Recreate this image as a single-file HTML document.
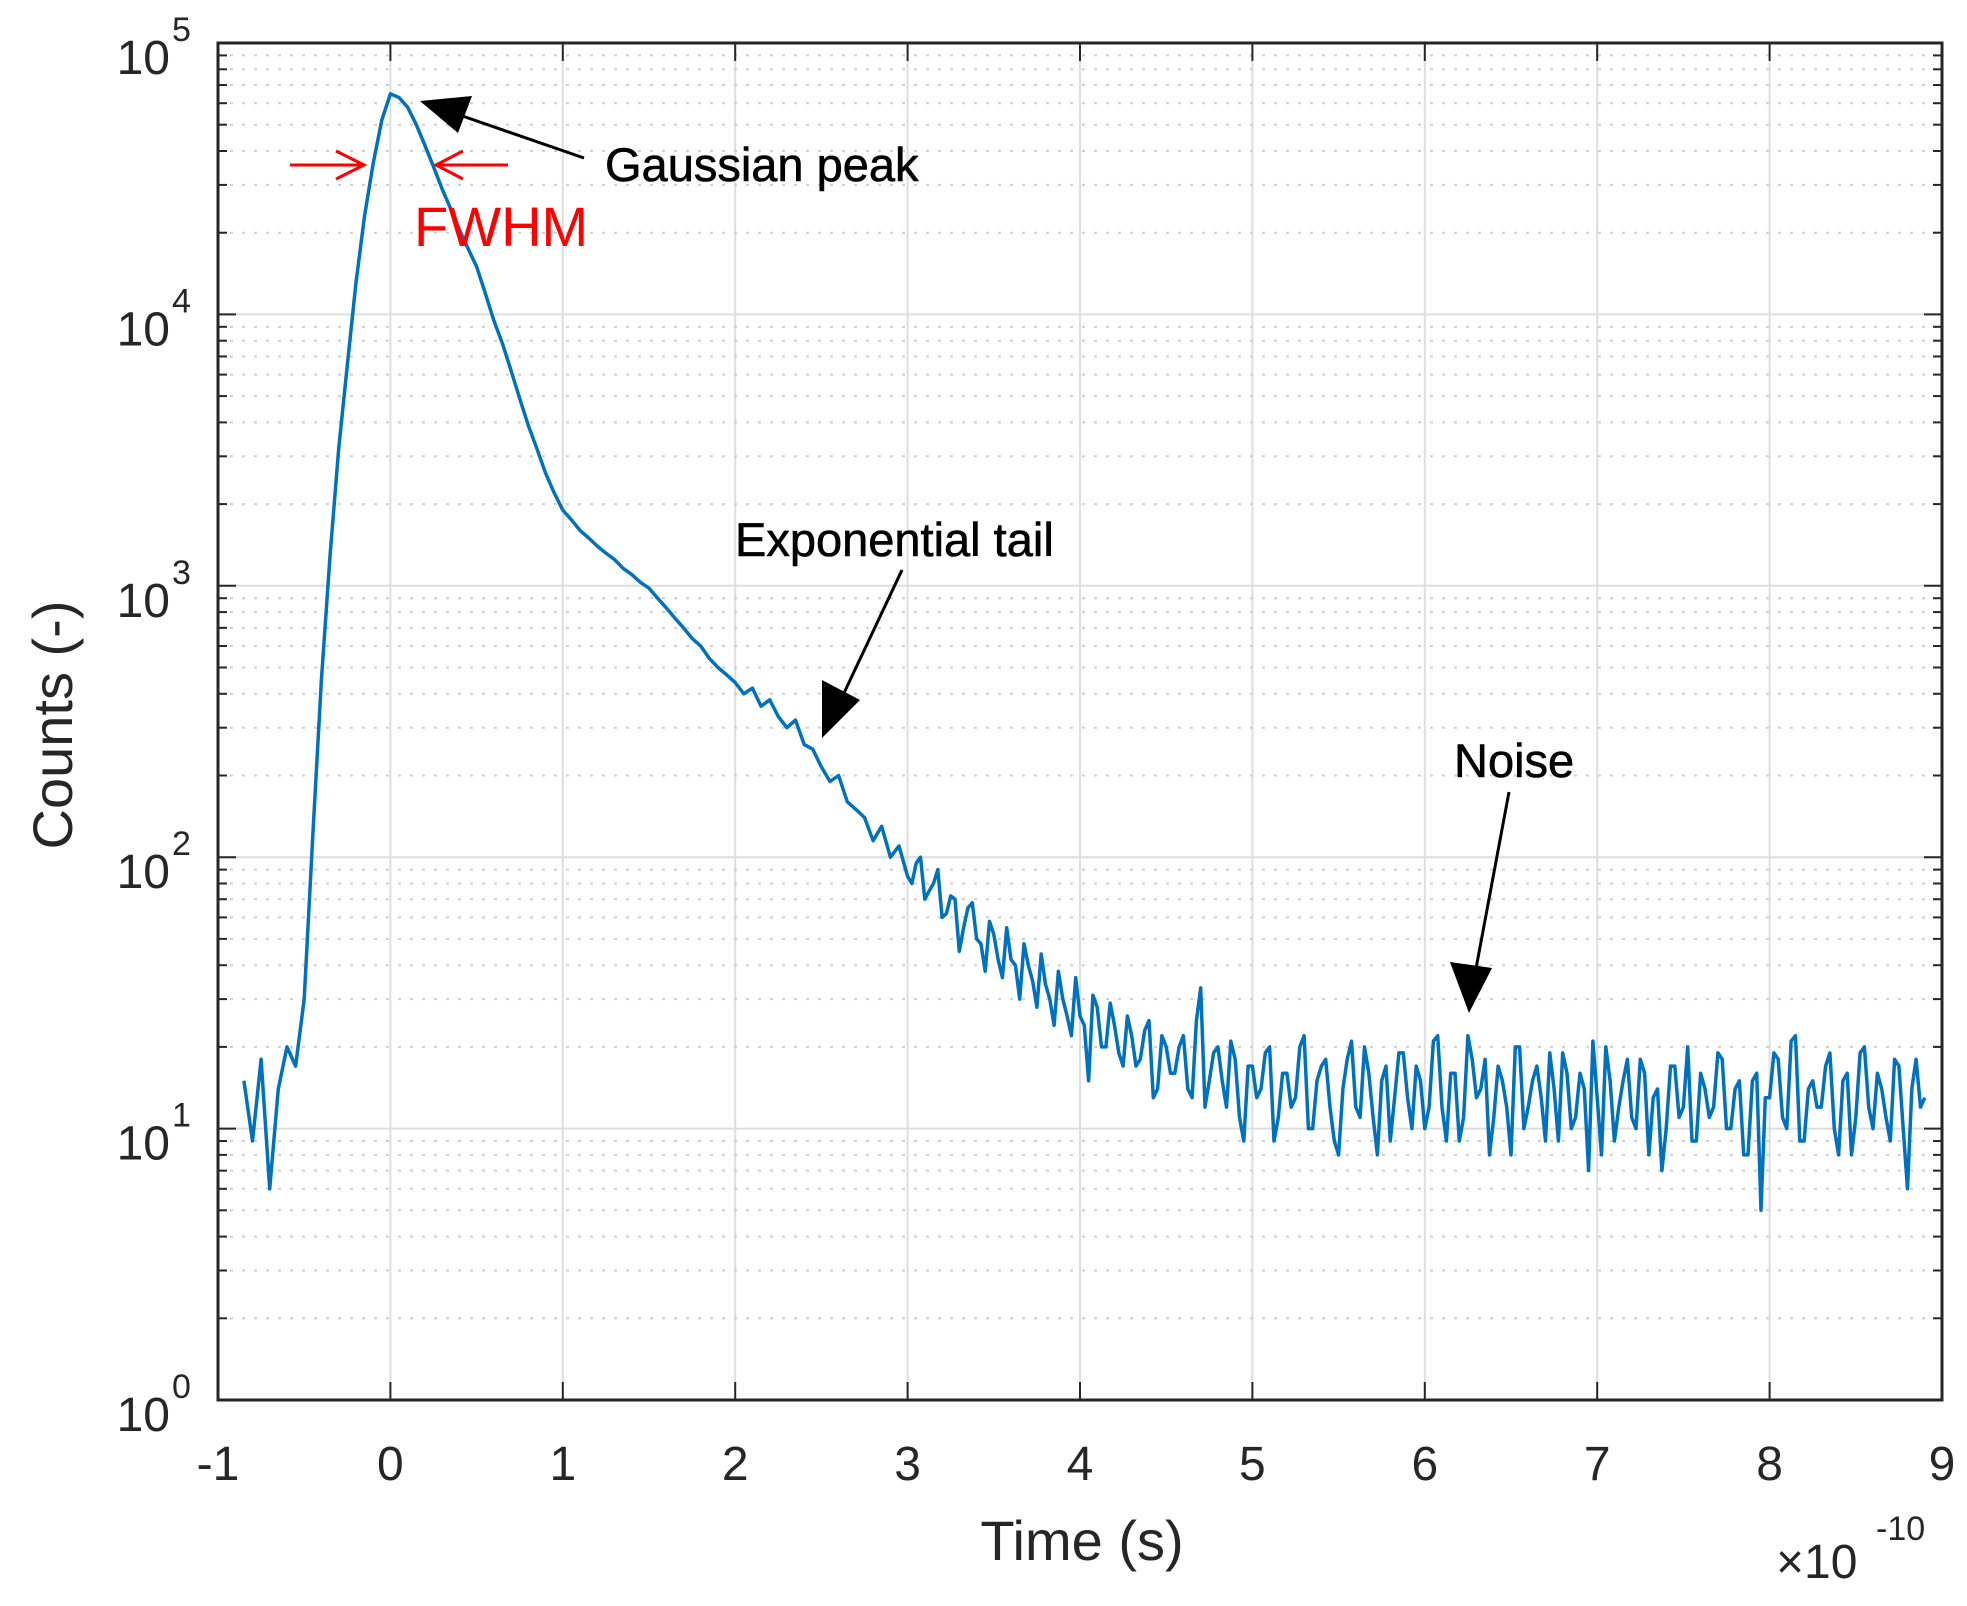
<!DOCTYPE html>
<html><head><meta charset="utf-8"><style>
html,body{margin:0;padding:0;background:#fff;}
svg{display:block;font-family:"Liberation Sans",sans-serif;}
</style></head><body>
<svg id="chart" width="1967" height="1606" viewBox="0 0 1967 1606">
<g id="grid"></g>
<g id="series"></g>
<g id="axes"></g>
<g id="labels"></g>
<text x="1082" y="1560" font-size="56" fill="#262626" text-anchor="middle">Time (s)</text>
<text transform="translate(72,725) rotate(-90)" font-size="56" fill="#262626" text-anchor="middle">Counts (-)</text>
<g>
<text x="1776" y="1578" font-size="48" fill="#262626">×10</text>
<text x="1876" y="1540" font-size="34" fill="#262626">-10</text>
</g>
<g>
<line x1="584" y1="158" x2="445" y2="110" stroke="#000" stroke-width="3"/>
<polygon points="420,101 472,96 458,133" fill="#000"/>
<text x="605" y="181" font-size="47" fill="#000" stroke="#000" stroke-width="0.6">Gaussian peak</text>
<line x1="290" y1="165" x2="364" y2="165" stroke="#f00" stroke-width="3"/>
<polyline points="336,151 364,165 336,179" fill="none" stroke="#f00" stroke-width="3"/>
<line x1="508" y1="165" x2="436" y2="165" stroke="#f00" stroke-width="3"/>
<polyline points="463,151 436,165 463,179" fill="none" stroke="#f00" stroke-width="3"/>
<text x="414" y="246" font-size="56" fill="#f00">FWHM</text>
<text x="735" y="556" font-size="47" fill="#000" stroke="#000" stroke-width="0.6">Exponential tail</text>
<line x1="902" y1="570" x2="836" y2="710" stroke="#000" stroke-width="3"/>
<polygon points="822,738 822,680 860,700" fill="#000"/>
<text x="1454" y="777" font-size="47" fill="#000" stroke="#000" stroke-width="0.6">Noise</text>
<line x1="1509" y1="792" x2="1472" y2="990" stroke="#000" stroke-width="3"/>
<polygon points="1469,1013 1450,962 1492,968" fill="#000"/>
</g>
</svg>
<script>
const tStart = -0.85;
const tStep = 0.05;
const counts = [15,9,18,6,14,20,17,30,120,450,1300,3200,6500,13000,23000,36000,52000,65000,
63000,58000,50000,42000,35000,29000,24500,20500,17500,15000,12000,9500,7800,6200,4900,3900,3200,2600,2200,1900,
1750,1600,1500,1400,1320,1250,1160,1100,1030,980,900,830,760,700,640,600,540,500,470,
440,400,420,360,380,330,300,320,260,250,215,190,200,160,150,140,115,130,100,110,85,95,70,80,60,72,45,65,50,38,52,36,42,30,40,28,34,24,30,22,26,15,28,20,24,17,22,18,25,14,20,16,22,13,33,15,20,12,18,9,17,14,20,11,16,13,22,10,17,12,8,18,12,20,11,15,9,19,13,17,10,21,12,16,9,22,13,18,11,15,8,20,12,17,9,14,19,10,16,7,13,20,9,15,11,18,8,14,10,17,12,9,16,11,19,10,14,8,15,5,13,18,10,22,9,15,12,19,8,16,11,20,10,14,9,17,6,18,13];
const midStart = 3.025;
const midCounts = [80,100,75,90,62,70,55,68,48,58,42,55,40,48,35,44,30,38,26,36,24,31,20,29,19,26,17,23,13,22,16,20,14,25,12,19,15,21,11,17,
13,19,9,16,12,20,10,15,18,9,14,21,11,16,8,17,13,19,10,15,12,22,9,16,11,18,14,8,17,12,20,10,15,13,19,9,16,11,14,21,8,15,12,18,10,16,13,7,17,11,20,9,14,12,18,10,15,8,16,13,19,11,21,9,14,12,17,10,15,8,19,12,16,11,18,10,14,12];
const xTicks = [-1,0,1,2,3,4,5,6,7,8,9];
const yDecades = [0,1,2,3,4,5];

const X0=218, X1=1942, Y0=1400, Y1=43;
const xMin=-1, xMax=9, yMinLog=0, yMaxLog=5;
function xs(t){return X0+(t-xMin)/(xMax-xMin)*(X1-X0);}
function ys(v){return Y0-(Math.log10(v)-yMinLog)/(yMaxLog-yMinLog)*(Y0-Y1);}
const NS="http://www.w3.org/2000/svg";
function mk(tag,attrs,parent){const e=document.createElementNS(NS,tag);for(const k in attrs)e.setAttribute(k,attrs[k]);parent.appendChild(e);return e;}
const grid=document.getElementById('grid'),axes=document.getElementById('axes'),labels=document.getElementById('labels'),series=document.getElementById('series');

xTicks.forEach(t=>{
  const x=xs(t);
  const g=mk('line',{x1:x,y1:Y1,x2:x,y2:Y0,stroke:'#dedede','stroke-width':2},grid);
  
  
  const tb=mk('line',{x1:x,y1:Y0,x2:x,y2:Y0-18,stroke:'#262626','stroke-width':2},axes);
  
  
  const tt=mk('line',{x1:x,y1:Y1,x2:x,y2:Y1+18,stroke:'#262626','stroke-width':2},axes);
  
  
  const lb=mk('text',{x:x,y:1480,'font-size':48,fill:'#262626','text-anchor':'middle'},labels);
  lb.textContent=String(t);
  
  
});
yDecades.forEach(d=>{
  const y=ys(Math.pow(10,d));
  const g=mk('line',{x1:X0,y1:y,x2:X1,y2:y,stroke:'#dedede','stroke-width':2},grid);
  
  
  [X0,X1].forEach((ax,i)=>{
    const tk=mk('line',{x1:ax,y1:y,x2:ax+(i?-18:18),y2:y,stroke:'#262626','stroke-width':2},axes);
    
    
  });
  const lb=mk('text',{x:170,y:y+31,'font-size':48,fill:'#262626','text-anchor':'end'},labels);
  lb.textContent='10';
  
  
  const sp=mk('text',{x:172,y:y-2,'font-size':34,fill:'#262626'},labels);
  sp.textContent=String(d);
  
  
  if(d<5){for(let m=2;m<=9;m++){
    const ym=ys(m*Math.pow(10,d));
    const mg=mk('line',{x1:X0,y1:ym,x2:X1,y2:ym,stroke:'#cfcfcf','stroke-width':2,'stroke-dasharray':'3 9'},grid);
    
    
    [X0,X1].forEach((ax,i)=>{
      const mt=mk('line',{x1:ax,y1:ym,x2:ax+(i?-9:9),y2:ym,stroke:'#262626','stroke-width':2},axes);
      
      
    });
  }}
});
const box=mk('rect',{x:X0,y:Y1,width:X1-X0,height:Y0-Y1,fill:'none',stroke:'#262626','stroke-width':3},axes);



const all=counts.map((v,i)=>[tStart+i*tStep,v]).concat(midCounts.map((v,i)=>[midStart+i*tStep,v]));
all.sort((a,b)=>a[0]-b[0]);
const pts=all.map(p=>xs(p[0]).toFixed(1)+','+ys(p[1]).toFixed(1)).join(' ');
const line=mk('polyline',{points:pts,fill:'none',stroke:'#0072BD','stroke-width':3.5,'stroke-linejoin':'round'},series);


</script>
</body></html>
